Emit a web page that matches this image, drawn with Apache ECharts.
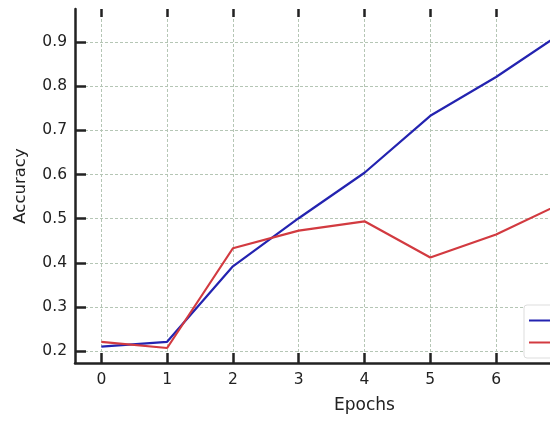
<!DOCTYPE html>
<html>
<head>
<meta charset="utf-8">
<script src="https://cdn.jsdelivr.net/npm/echarts@6/dist/echarts.min.js"></script>
<style>html,body{margin:0;padding:0;background:#fff;}#c{width:550px;height:421px;}</style>
</head>
<body>
<div id="c"></div>
<script>
const epochs = [0, 1, 2, 3, 4, 5, 6, 7];
const trainAcc = [0.21, 0.221, 0.392, 0.501, 0.604, 0.733, 0.821, 0.921];
const valAcc = [0.221, 0.207, 0.433, 0.473, 0.494, 0.412, 0.464, 0.535];
const xTicks = [0, 1, 2, 3, 4, 5, 6, 7, 8];
const yTicks = [0.2, 0.3, 0.4, 0.5, 0.6, 0.7, 0.8, 0.9];
const seriesNames = ['Training Accuracy', 'Validation Accuracy'];

const chart = echarts.init(document.getElementById('c'), null, {renderer: 'canvas'});
const font = 'DejaVu Sans';
const gridLine = {show: true, lineStyle: {color: '#b5c6b5', type: [3, 2], width: 1}};
chart.setOption({
  animation: false,
  backgroundColor: '#fff',
  grid: {left: 75, top: 9, width: 579, height: 354, outerBoundsMode: 'none', containLabel: false},
  legend: {
    orient: 'vertical', left: 524, top: 305,
    padding: [7, 5], itemGap: 5, itemWidth: 30, itemHeight: 2, icon: 'rect',
    borderColor: '#dddddd', borderWidth: 1, borderRadius: 3, backgroundColor: '#fff',
    textStyle: {fontFamily: font, fontSize: 14, color: '#222', lineHeight: 17},
    data: seriesNames
  },
  xAxis: [{
    type: 'value', min: -0.4, max: 8.4, position: 'bottom',
    name: 'Epochs', nameLocation: 'middle', nameGap: 34,
    nameTextStyle: {fontFamily: font, fontSize: 17, color: '#222'},
    axisLine: {show: true, onZero: false, lineStyle: {color: '#222', width: 2.5}},
    axisTick: {show: true, inside: true, length: 10, customValues: xTicks, lineStyle: {color: '#222', width: 2.5}},
    axisLabel: {customValues: xTicks, fontFamily: font, fontSize: 15.5, color: '#222', margin: 9},
    splitLine: gridLine
  }, {
    type: 'value', min: -0.4, max: 8.4, position: 'top',
    axisLine: {show: false},
    axisTick: {show: true, inside: true, length: 8, customValues: xTicks, lineStyle: {color: '#222', width: 2.5}},
    axisLabel: {show: false},
    splitLine: {show: false}
  }],
  yAxis: {
    type: 'value', min: 0.173, max: 0.975,
    name: 'Accuracy', nameLocation: 'middle', nameGap: 46, nameRotate: 90,
    nameTextStyle: {fontFamily: font, fontSize: 16.5, color: '#222'},
    axisLine: {show: true, onZero: false, lineStyle: {color: '#222', width: 2.5}},
    axisTick: {show: true, inside: true, length: 11, customValues: yTicks, lineStyle: {color: '#222', width: 2.5}},
    axisLabel: {customValues: yTicks, fontFamily: font, fontSize: 15.5, color: '#222', margin: 8,
      formatter: v => v.toFixed(1)},
    splitLine: gridLine
  },
  series: [{
    name: seriesNames[0], type: 'line', symbol: 'none', clip: true,
    data: epochs.map((e, i) => [e, trainAcc[i]]),
    lineStyle: {color: '#2323b0', width: 2.2}, itemStyle: {color: '#2323b0'}
  }, {
    name: seriesNames[1], type: 'line', symbol: 'none', clip: true,
    data: epochs.map((e, i) => [e, valAcc[i]]),
    lineStyle: {color: '#d23a40', width: 2.2}, itemStyle: {color: '#d23a40'}
  }]
});
</script>
</body>
</html>
